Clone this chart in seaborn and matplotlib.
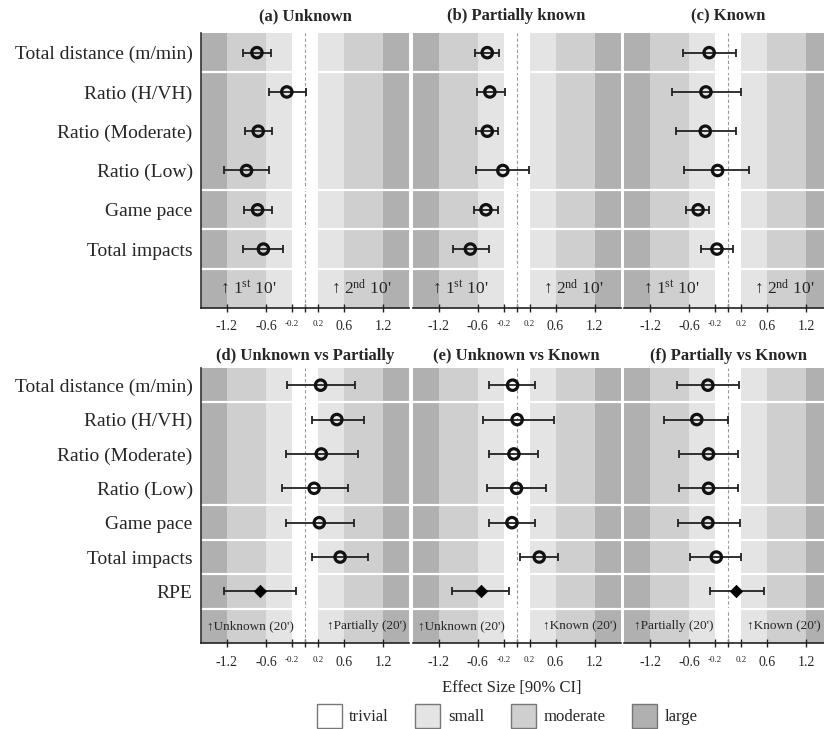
import numpy as np
import pandas as pd
import matplotlib
matplotlib.use("Agg")
import matplotlib.pyplot as plt
import seaborn as sns
from matplotlib.patches import Patch

# ---- data -------------------------------------------------------------
measures = ["Total distance (m/min)", "Ratio (H/VH)", "Ratio (Moderate)",
            "Ratio (Low)", "Game pace", "Total impacts"]
measures_cmp = measures + ["RPE"]

# within-condition change, 1st 10' vs 2nd 10'
unknown_es = [-0.74, -0.28, -0.72, -0.90, -0.73, -0.64]
unknown_lo = [-0.95, -0.56, -0.92, -1.24, -0.94, -0.95]
unknown_hi = [-0.53, 0.02, -0.51, -0.56, -0.51, -0.34]

partial_es = [-0.45, -0.41, -0.45, -0.21, -0.47, -0.71]
partial_lo = [-0.64, -0.61, -0.63, -0.62, -0.65, -0.98]
partial_hi = [-0.27, -0.18, -0.28, 0.19, -0.29, -0.43]

known_es = [-0.29, -0.34, -0.35, -0.16, -0.46, -0.17]
known_lo = [-0.69, -0.86, -0.80, -0.67, -0.64, -0.41]
known_hi = [0.12, 0.20, 0.12, 0.33, -0.29, 0.07]

# between-condition comparisons over 20'
unk_vs_par_es = [0.24, 0.49, 0.25, 0.14, 0.22, 0.54, -0.69]
unk_vs_par_lo = [-0.28, 0.11, -0.29, -0.36, -0.29, 0.10, -1.25]
unk_vs_par_hi = [0.77, 0.90, 0.81, 0.66, 0.75, 0.97, -0.14]

unk_vs_kno_es = [-0.06, 0.01, -0.04, 0.00, -0.07, 0.35, -0.55]
unk_vs_kno_lo = [-0.42, -0.52, -0.42, -0.46, -0.43, 0.05, -0.99]
unk_vs_kno_hi = [0.28, 0.57, 0.33, 0.46, 0.28, 0.64, -0.12]

par_vs_kno_es = [-0.31, -0.48, -0.30, -0.30, -0.31, -0.18, 0.13]
par_vs_kno_lo = [-0.78, -0.99, -0.76, -0.76, -0.77, -0.58, -0.27]
par_vs_kno_hi = [0.17, 0.00, 0.16, 0.16, 0.18, 0.20, 0.56]

titles = ["(a) Unknown", "(b) Partially known", "(c) Known",
          "(d) Unknown vs Partially", "(e) Unknown vs Known", "(f) Partially vs Known"]

tick_values = [-1.2, -0.6, -0.2, 0, 0.2, 0.6, 1.2]
tick_labels = ["-1.2", "-0.6", "-0.2", "", "0.2", "0.6", "1.2"]

band_edges = [-1.6, -1.2, -0.6, -0.2, 0.2, 0.6, 1.2, 1.6]
band_names = ["large", "moderate", "small", "trivial", "small", "moderate", "large"]
band_colors = {"trivial": "#ffffff", "small": "#e4e4e4",
               "moderate": "#cfcfcf", "large": "#b0b0b0"}

# ---- style ------------------------------------------------------------
sns.set_theme(style="white")
plt.rcParams["font.family"] = ["Liberation Serif", "DejaVu Serif"]
plt.rcParams["mathtext.fontset"] = "custom"
plt.rcParams["mathtext.rm"] = "Liberation Serif"
plt.rcParams["mathtext.it"] = "Liberation Serif:italic"
plt.rcParams["mathtext.bf"] = "Liberation Serif:bold"

W, H = 824, 729
fig = plt.figure(figsize=(W / 100, H / 100), dpi=100)

lefts = [201, 412.5, 624]
axw = 208
tops = [33, 368]
axh = 275


def make_ax(col, row):
    return fig.add_axes([lefts[col] / W, 1 - (tops[row] + axh) / H, axw / W, axh / H])


def draw_panel(ax, labels, es, lo, hi, title, seps, notes, note_size, show_labels,
               title_pad):
    n = len(labels)
    # effect-size bands
    for i, name in enumerate(band_names):
        ax.axvspan(band_edges[i], band_edges[i + 1], color=band_colors[name], lw=0, zorder=0)
    ax.axvline(0, color="#9a9a9a", lw=0.8, ls=(0, (3, 2)), zorder=1)
    for s in seps:
        ax.axhline(s, color="white", lw=1.6, zorder=1)

    df = pd.DataFrame({"measure": labels, "pos": np.arange(n), "es": es,
                       "lo": lo, "hi": hi})
    df["kind"] = ["rpe" if m == "RPE" else "load" for m in labels]
    ax.errorbar(df["es"], df["pos"], xerr=[df["es"] - df["lo"], df["hi"] - df["es"]],
                fmt="none", ecolor="#222222", elinewidth=1.3, capsize=2.8,
                capthick=1.3, zorder=2)
    load = df[df["kind"] == "load"]
    sns.scatterplot(data=load, x="es", y="pos", ax=ax, marker="o", s=56,
                    color="#111111", linewidth=2.3, zorder=3, legend=False)
    ax.collections[-1].set_facecolor("none")
    ax.collections[-1].set_edgecolor("#111111")
    rpe = df[df["kind"] == "rpe"]
    if len(rpe):
        sns.scatterplot(data=rpe, x="es", y="pos", ax=ax, marker="D", s=40,
                        color="black", edgecolor="black", linewidth=0.5,
                        zorder=3, legend=False)

    # direction notes in the bottom row
    (lx, lha, ltxt), (rx, rha, rtxt) = notes
    ax.text(lx, n, ltxt, ha=lha, va="center", fontsize=note_size, zorder=4)
    ax.text(rx, n, rtxt, ha=rha, va="center", fontsize=note_size, zorder=4)

    ax.set_xlim(-1.6, 1.6)
    ax.set_ylim(n + 0.5, -0.5)
    ax.set_xticks(tick_values)
    ax.set_xticklabels(tick_labels)
    for t, lab in zip(ax.get_xticklabels(), tick_labels):
        t.set_fontsize(6.5 if lab in ("-0.2", "0.2") else 10)
    ax.tick_params(axis="x", direction="inout", length=6, width=1, color="#222222",
                   pad=6, bottom=True)
    ax.set_yticks(np.arange(n))
    if show_labels:
        ax.set_yticklabels(labels, fontsize=14)
        ax.tick_params(axis="y", length=0, pad=6)
    else:
        ax.set_yticklabels([])
        ax.tick_params(axis="y", length=0)
    ax.set_xlabel("")
    ax.set_ylabel("")
    ax.set_title(title, fontsize=12, fontweight="bold", pad=title_pad)
    for side in ("top", "right"):
        ax.spines[side].set_visible(False)
    ax.spines["bottom"].set_color("#222222")
    ax.spines["bottom"].set_linewidth(1.2)
    if show_labels:
        ax.spines["left"].set_color("#333333")
        ax.spines["left"].set_linewidth(1.2)
    else:
        ax.spines["left"].set_visible(False)
    ax.grid(False)


top_notes = ((-0.87, "center", "↑ 1$^{\\mathrm{st}}$ 10'"),
             (0.87, "center", "↑ 2$^{\\mathrm{nd}}$ 10'"))
top_sets = [(unknown_es, unknown_lo, unknown_hi),
            (partial_es, partial_lo, partial_hi),
            (known_es, known_lo, known_hi)]
for c, (es, lo, hi) in enumerate(top_sets):
    ax = make_ax(c, 0)
    draw_panel(ax, measures, es, lo, hi, titles[c], [0.5, 3.5, 4.5, 5.5],
               top_notes, 12.5, c == 0, 9)

bottom_sets = [(unk_vs_par_es, unk_vs_par_lo, unk_vs_par_hi,
                ("↑Unknown (20')", "↑Partially (20')"), 0.95),
               (unk_vs_kno_es, unk_vs_kno_lo, unk_vs_kno_hi,
                ("↑Unknown (20')", "↑Known (20')"), 0.97),
               (par_vs_kno_es, par_vs_kno_lo, par_vs_kno_hi,
                ("↑Partially (20')", "↑Known (20')"), 0.86)]
for c, (es, lo, hi, (lt, rt), rx) in enumerate(bottom_sets):
    ax = make_ax(c, 1)
    draw_panel(ax, measures_cmp, es, lo, hi, titles[3 + c], [0.5, 3.5, 4.5, 5.5, 6.5],
               ((-0.84, "center", lt), (rx, "center", rt)), 9.5, c == 0, 6)

fig.text(512 / W, 1 - 688 / H, "Effect Size [90% CI]", ha="center", va="center",
         fontsize=12)

handles = [Patch(facecolor=band_colors[k], edgecolor="#777777", linewidth=1.0, label=k)
           for k in ["trivial", "small", "moderate", "large"]]
fig.legend(handles=handles, loc="center", bbox_to_anchor=(507 / W, 1 - 716 / H),
           ncol=4, frameon=False, fontsize=12, handlelength=1.5, handleheight=1.8,
           columnspacing=1.6, handletextpad=0.45, borderpad=0.0)

fig.savefig("out.png", dpi=100)
